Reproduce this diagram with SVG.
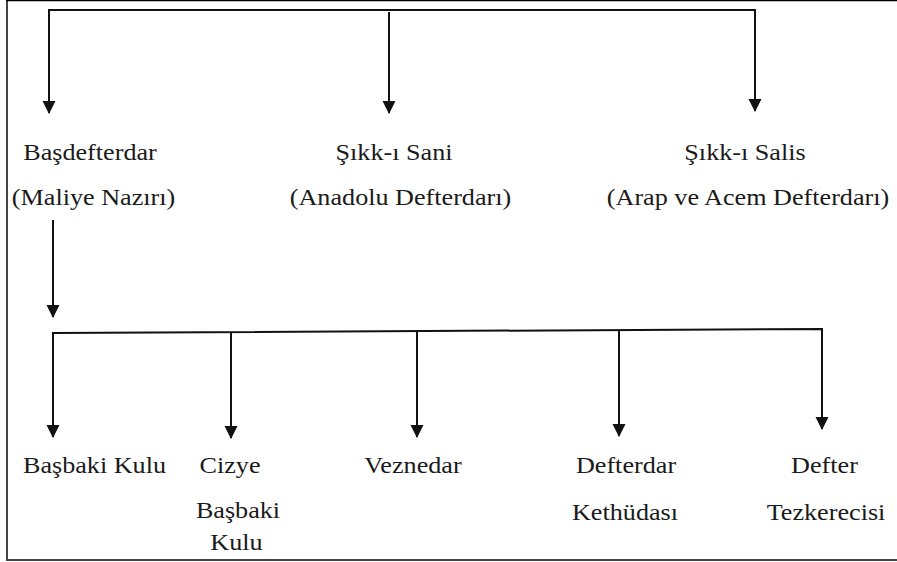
<svg xmlns="http://www.w3.org/2000/svg" width="897" height="562" viewBox="0 0 897 562">
  <style>
    .frame { stroke: #444; stroke-width: 2; fill: none; }
    .wire { stroke: #111; stroke-width: 2; fill: none; }
  </style>
  <defs>
    <marker id="arrow" markerUnits="userSpaceOnUse" markerWidth="14" markerHeight="16" refX="12" refY="6.5" orient="auto-start-reverse">
      <path d="M0,0 L13,6.5 L0,13 Z" fill="#111"/>
    </marker>
  </defs>
  <rect width="897" height="562" fill="#fff"/>

  <!-- page frame -->
  <g id="frame">
    <line class="frame" x1="7" y1="0" x2="7" y2="561"/>
    <line x1="6" y1="0.5" x2="897" y2="0.5" stroke="#000" stroke-width="1.5"/>
    <line class="frame" x1="6" y1="560" x2="897" y2="560"/>
  </g>

  <!-- connectors -->
  <g id="connectors">
    <polyline class="wire" points="49,113 49,10 755,10 755,111" marker-start="url(#arrow)" marker-end="url(#arrow)"/>
    <line class="wire" x1="389" y1="12" x2="389" y2="113" marker-end="url(#arrow)"/>
    <line class="wire" x1="53" y1="220" x2="53" y2="317" marker-end="url(#arrow)"/>
    <polyline class="wire" points="53,437 53,333 822,329 822,429" marker-start="url(#arrow)" marker-end="url(#arrow)"/>
    <line class="wire" x1="231" y1="332" x2="231" y2="438" marker-end="url(#arrow)"/>
    <line class="wire" x1="417" y1="331" x2="417" y2="437" marker-end="url(#arrow)"/>
    <line class="wire" x1="619" y1="330" x2="619" y2="436" marker-end="url(#arrow)"/>
  </g>

  <!-- labels: Times-metric serif, slightly widened -->
  <g id="basdefterdar">
    <text font-family="Liberation Serif" font-size="24" fill="#1a1a1a" text-anchor="middle" transform="translate(90 160) scale(1.09 1)">Başdefterdar</text>
    <text font-family="Liberation Serif" font-size="24" fill="#1a1a1a" text-anchor="middle" transform="translate(93.5 205) scale(1.09 1)">(Maliye Nazırı)</text>
  </g>
  <g id="sikk-i-sani">
    <text font-family="Liberation Serif" font-size="24" fill="#1a1a1a" text-anchor="middle" transform="translate(394 160) scale(1.09 1)">Şıkk-ı Sani</text>
    <text font-family="Liberation Serif" font-size="24" fill="#1a1a1a" text-anchor="middle" transform="translate(400.5 205) scale(1.09 1)">(Anadolu Defterdarı)</text>
  </g>
  <g id="sikk-i-salis">
    <text font-family="Liberation Serif" font-size="24" fill="#1a1a1a" text-anchor="middle" transform="translate(745 160) scale(1.09 1)">Şıkk-ı Salis</text>
    <text font-family="Liberation Serif" font-size="24" fill="#1a1a1a" text-anchor="middle" transform="translate(748 205) scale(1.09 1)">(Arap ve Acem Defterdarı)</text>
  </g>

  <g id="basbaki-kulu">
    <text font-family="Liberation Serif" font-size="24" fill="#1a1a1a" text-anchor="middle" transform="translate(94.5 473) scale(1.09 1)">Başbaki Kulu</text>
  </g>
  <g id="cizye-basbaki-kulu">
    <text font-family="Liberation Serif" font-size="24" fill="#1a1a1a" text-anchor="middle" transform="translate(230 473) scale(1.09 1)">Cizye</text>
    <text font-family="Liberation Serif" font-size="24" fill="#1a1a1a" text-anchor="middle" transform="translate(238 518) scale(1.09 1)">Başbaki</text>
    <text font-family="Liberation Serif" font-size="24" fill="#1a1a1a" text-anchor="middle" transform="translate(236.5 550) scale(1.09 1)">Kulu</text>
  </g>
  <g id="veznedar">
    <text font-family="Liberation Serif" font-size="24" fill="#1a1a1a" text-anchor="middle" transform="translate(413 473) scale(1.09 1)">Veznedar</text>
  </g>
  <g id="defterdar-kethudasi">
    <text font-family="Liberation Serif" font-size="24" fill="#1a1a1a" text-anchor="middle" transform="translate(626 473) scale(1.09 1)">Defterdar</text>
    <text font-family="Liberation Serif" font-size="24" fill="#1a1a1a" text-anchor="middle" transform="translate(625 520) scale(1.09 1)">Kethüdası</text>
  </g>
  <g id="defter-tezkerecisi">
    <text font-family="Liberation Serif" font-size="24" fill="#1a1a1a" text-anchor="middle" transform="translate(824.5 473) scale(1.09 1)">Defter</text>
    <text font-family="Liberation Serif" font-size="24" fill="#1a1a1a" text-anchor="middle" transform="translate(826 520) scale(1.09 1)">Tezkerecisi</text>
  </g>
</svg>
